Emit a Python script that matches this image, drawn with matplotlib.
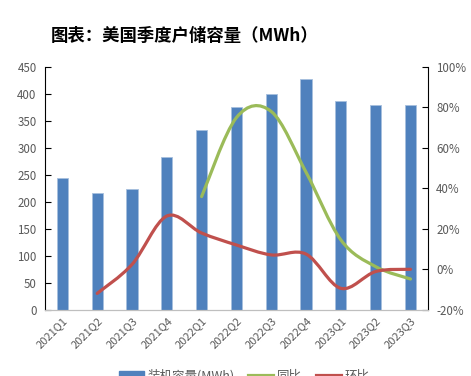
import numpy as np
import matplotlib.pyplot as plt
from matplotlib.path import Path
from matplotlib.patches import PathPatch
from matplotlib.lines import Line2D
from matplotlib.ticker import FuncFormatter

plt.rcParams['font.family'] = ['Noto Sans CJK SC', 'DejaVu Sans']

quarters = ['2021Q1', '2021Q2', '2021Q3', '2021Q4', '2022Q1', '2022Q2',
            '2022Q3', '2022Q4', '2023Q1', '2023Q2', '2023Q3']
capacity = [245, 216, 224, 283, 333, 375, 399, 428, 387, 380, 380]
# yoy starts 2022Q1, qoq starts 2021Q2 (percent)
yoy = [None, None, None, None, 36, 75, 78, 48, 14.6, 1.4, -4.7]
qoq = [None, -11.8, 2.5, 26.4, 18, 12.1, 7.2, 7.6, -9.3, -1, 0.1]


def smooth_path(xs, ys):
    # catmull-rom -> cubic bezier, close to excel's "smoothed line"
    pts = np.column_stack([xs, ys]).astype(float)
    verts = [pts[0]]
    codes = [Path.MOVETO]
    n = len(pts)
    for i in range(n - 1):
        p0 = pts[max(i - 1, 0)]
        p1 = pts[i]
        p2 = pts[i + 1]
        p3 = pts[min(i + 2, n - 1)]
        c1 = p1 + (p2 - p0) / 6.0
        c2 = p2 - (p3 - p1) / 6.0
        verts += [c1, c2, p2]
        codes += [Path.CURVE4] * 3
    return Path(verts, codes)


fig = plt.figure(figsize=(4.71, 3.76), dpi=100)
ax = fig.add_axes([0.0955, 0.1755, 0.813, 0.6465])
x = np.arange(len(quarters))
ax.bar(x, capacity, width=0.32, color='#4F81BD', edgecolor='#A7BFDE', linewidth=0.6, zorder=2)
ax.set_xlim(-0.5, len(quarters) - 0.5)
ax.set_ylim(0, 450)
ax.set_yticks(range(0, 451, 50))
ax.set_xticks(x)
ax.set_xticklabels(quarters, rotation=45, ha='right', rotation_mode='anchor')

ax2 = ax.twinx()
ax2.set_ylim(-20, 100)
ax2.set_yticks(range(-20, 101, 20))
ax2.yaxis.set_major_formatter(FuncFormatter(lambda v, p: '%d%%' % v))

for vals, col in [(yoy, '#9BBB59'), (qoq, '#C0504D')]:
    xs = [i for i, v in enumerate(vals) if v is not None]
    ys = [v for v in vals if v is not None]
    ax2.add_patch(PathPatch(smooth_path(xs, ys), facecolor='none', edgecolor=col,
                            lw=2.3, capstyle='round', zorder=3))

for a in (ax, ax2):
    a.spines['top'].set_visible(False)
    a.spines['bottom'].set_color('#BFBFBF')
    a.spines['left'].set_color('black')
    a.spines['right'].set_color('black')
    a.tick_params(axis='y', direction='in', length=4, width=0.8, colors='black',
                  labelcolor='#595959', labelsize=8.3, pad=6)
ax.tick_params(axis='x', length=0, labelcolor='#595959', labelsize=8, pad=4)
ax2.spines['left'].set_visible(False)
ax.spines['right'].set_visible(False)

fig.text(0.108, 0.905, '图表：美国季度户储容量（MWh）', fontsize=12.5, fontweight='bold',
         color='black', va='center')

handles = [plt.Rectangle((0, 0), 1, 1, color='#4F81BD'),
           Line2D([0], [0], color='#9BBB59', lw=2.3),
           Line2D([0], [0], color='#C0504D', lw=2.3)]
fig.legend(handles, ['装机容量(MWh)', '同比', '环比'], loc='center',
           bbox_to_anchor=(0.518, 0.0), ncol=3, frameon=False, fontsize=9,
           labelcolor='#595959', handlelength=2.0, handleheight=0.7, columnspacing=1.1,
           handletextpad=0.3)

fig.savefig('out.png', dpi=100)
